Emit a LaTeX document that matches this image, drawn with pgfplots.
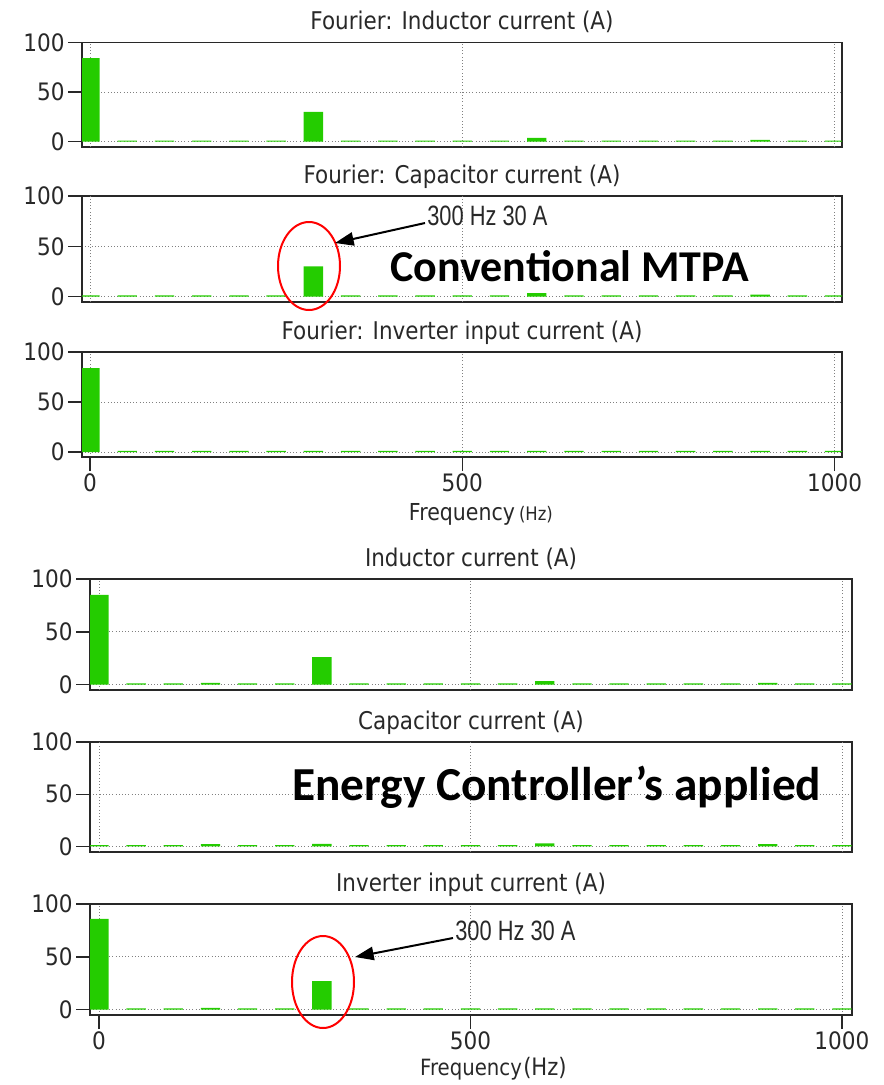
\documentclass[border=0pt]{standalone}
\usepackage{fontspec}
\setmainfont{DejaVu Sans}[FakeStretch=0.88]
\newfontfamily\calib{Carlito}
\newfontfamily\narrow{Liberation Sans}[FakeStretch=0.78]
\newfontfamily\tickfam{DejaVu Sans}[FakeStretch=0.9]
\usepackage{pgfplots}
\pgfplotsset{compat=1.18}
\usetikzlibrary{arrows.meta}
\definecolor{barg}{RGB}{36,204,0}
\definecolor{axc}{RGB}{40,40,40}
\newcommand\tickfont{\tickfam\fontsize{18}{19}\selectfont}
\pgfplotsset{
 panel/.style={
  scale only axis, anchor=north west,
  ymin=-5, ymax=100, ytick={0,50,100},
  ybar, bar width=26,
  axis line style={axc, line width=1.2pt},
  tick style={axc, line width=1.1pt},
  tick align=outside, major tick length=10.5pt,
  ytick pos=left, xtick pos=bottom,
  ymajorgrids, grid style={gray, dotted, line width=0.7pt},
  /pgf/number format/assume math mode=true,
  /pgf/number format/1000 sep={},
  yticklabel={\mbox{\tickfont\pgfmathprintnumber{\tick}}},
  xticklabel={\mbox{\tickfont\pgfmathprintnumber{\tick}}},
  yticklabel style={text=axc, font=\tickfont, xshift=1pt},
  xticklabel style={text=axc, font=\tickfont, inner sep=1.5pt},
  title style={at={(0.5,1)}, anchor=base, yshift=3.5pt, font=\fontsize{18.3}{20}\selectfont, text=axc},
 },
 toppanel/.style={panel, xmin=-10.8, xmax=1010, width=570pt},
 botpanel/.style={panel, xmin=-12.1, xmax=1013.5, width=571.5pt},
 nox/.style={xtick=\empty, extra x ticks={0,500,1000}, extra x tick labels={}, extra x tick style={grid=major, major tick length=0pt}},
 withx/.style={xtick={0,500,1000}, xmajorgrids},
}
\begin{document}
\begin{tikzpicture}
\path[use as bounding box] (0,0) rectangle (663pt,-813.75pt);
% ---- Conventional MTPA ----
\begin{axis}[toppanel, nox, at={(61.5pt,-31.725pt)}, height=78.3pt, title={Fourier: Inductor current (A)}]
\addplot[fill=barg, draw=none] coordinates {(0,84) (50,1.2) (100,1.2) (150,1.2) (200,1.2) (250,1.2) (300,30) (350,1.2) (400,1.2) (450,1.2) (500,1.2) (550,1.2) (600,3.8) (650,1.2) (700,1.2) (750,1.2) (800,1.2) (850,1.2) (900,1.8) (950,1.2) (1000,1.2)};
\end{axis}
\begin{axis}[toppanel, nox, at={(61.5pt,-147pt)}, height=79.275pt, title={Fourier: Capacitor current (A)}]
\addplot[fill=barg, draw=none] coordinates {(0,1.2) (50,1.2) (100,1.2) (150,1.2) (200,1.2) (250,1.2) (300,30) (350,1.2) (400,1.2) (450,1.2) (500,1.2) (550,1.2) (600,3.5) (650,1.2) (700,1.2) (750,1.2) (800,1.2) (850,1.2) (900,2) (950,1.2) (1000,1.2)};
\end{axis}
\begin{axis}[toppanel, withx, at={(61.5pt,-264pt)}, height=78.75pt, title={Fourier: Inverter input current (A)},
  xlabel={Frequency\rlap{\hspace{3pt}\fontsize{14}{14}\selectfont(Hz)}},
  xlabel style={at={(axis description cs:0.5,0)}, anchor=base, yshift=-47.5pt, font=\fontsize{17.5}{18}\selectfont, text=axc}]
\addplot[fill=barg, draw=none] coordinates {(0,84) (50,1.2) (100,1.2) (150,1.2) (200,1.2) (250,1.2) (300,1.2) (350,1.2) (400,1.2) (450,1.2) (500,1.2) (550,1.2) (600,1.2) (650,1.2) (700,1.2) (750,1.2) (800,1.2) (850,1.2) (900,1.2) (950,1.2) (1000,1.2)};
\end{axis}
% ---- Energy controller ----
\begin{axis}[botpanel, nox, at={(67.5pt,-434.25pt)}, height=83.25pt, title={Inductor current (A)}]
\addplot[fill=barg, draw=none] coordinates {(0,85) (50,1.2) (100,1.2) (150,1.8) (200,1.2) (250,1.2) (300,26) (350,1.2) (400,1.2) (450,1.2) (500,1.2) (550,1.2) (600,3.5) (650,1.2) (700,1.2) (750,1.2) (800,1.2) (850,1.2) (900,1.8) (950,1.2) (1000,1.2)};
\end{axis}
\begin{axis}[botpanel, nox, at={(67.5pt,-556.5pt)}, height=82.275pt, title={Capacitor current (A)}]
\addplot[fill=barg, draw=none] coordinates {(0,1.2) (50,1.2) (100,1.2) (150,2.2) (200,1.2) (250,1.2) (300,2.5) (350,1.2) (400,1.2) (450,1.2) (500,1.2) (550,1.2) (600,3) (650,1.2) (700,1.2) (750,1.2) (800,1.2) (850,1.2) (900,2.2) (950,1.2) (1000,1.2)};
\end{axis}
\begin{axis}[botpanel, withx, at={(67.5pt,-678pt)}, height=83.25pt, title={Inverter input current (A)},
  xlabel={Frequency\rlap{\hspace{1pt}\fontsize{18}{18}\selectfont(Hz)}},
  xlabel style={at={(axis description cs:0.5,0)}, anchor=base, yshift=-45.5pt, font=\fontsize{16.8}{17}\selectfont, text=axc}]
\addplot[fill=barg, draw=none] coordinates {(0,86) (50,1.2) (100,1.2) (150,1.8) (200,1.2) (250,1.2) (300,27) (350,1.2) (400,1.2) (450,1.2) (500,1.2) (550,1.2) (600,1.2) (650,1.2) (700,1.2) (750,1.2) (800,1.2) (850,1.2) (900,1.2) (950,1.2) (1000,1.2)};
\end{axis}
% ---- annotations ----
\draw[red, line width=1.5pt] (231.75pt,-199.5pt) ellipse [x radius=23.25pt, y radius=33pt];
\draw[red, line width=1.5pt] (242.25pt,-736.5pt) ellipse [x radius=23.25pt, y radius=34.5pt];
\draw[black, line width=1.5pt, -{Triangle[length=14pt, width=10pt]}] (318.75pt,-167.25pt) -- (251.25pt,-182.25pt);
\draw[black, line width=1.5pt, -{Triangle[length=14pt, width=10pt]}] (339.75pt,-703.5pt) -- (266.25pt,-717.75pt);
\node[anchor=base west, inner sep=0pt, font=\narrow\fontsize{21}{22}\selectfont, text=axc] at (320.25pt,-168.75pt) {300 Hz 30 A};
\node[anchor=base west, inner sep=0pt, font=\narrow\fontsize{21}{22}\selectfont, text=axc] at (341.25pt,-705pt) {300 Hz 30 A};
\node[anchor=base west, inner sep=0pt, font=\calib\bfseries\fontsize{33}{34}\selectfont] at (292.5pt,-211.3pt) {Conventional MTPA};
\node[anchor=base west, inner sep=0pt, font=\calib\bfseries\fontsize{35.5}{36}\selectfont] at (218.8pt,-600pt) {Energy Controller’s applied};
\end{tikzpicture}
\end{document}
